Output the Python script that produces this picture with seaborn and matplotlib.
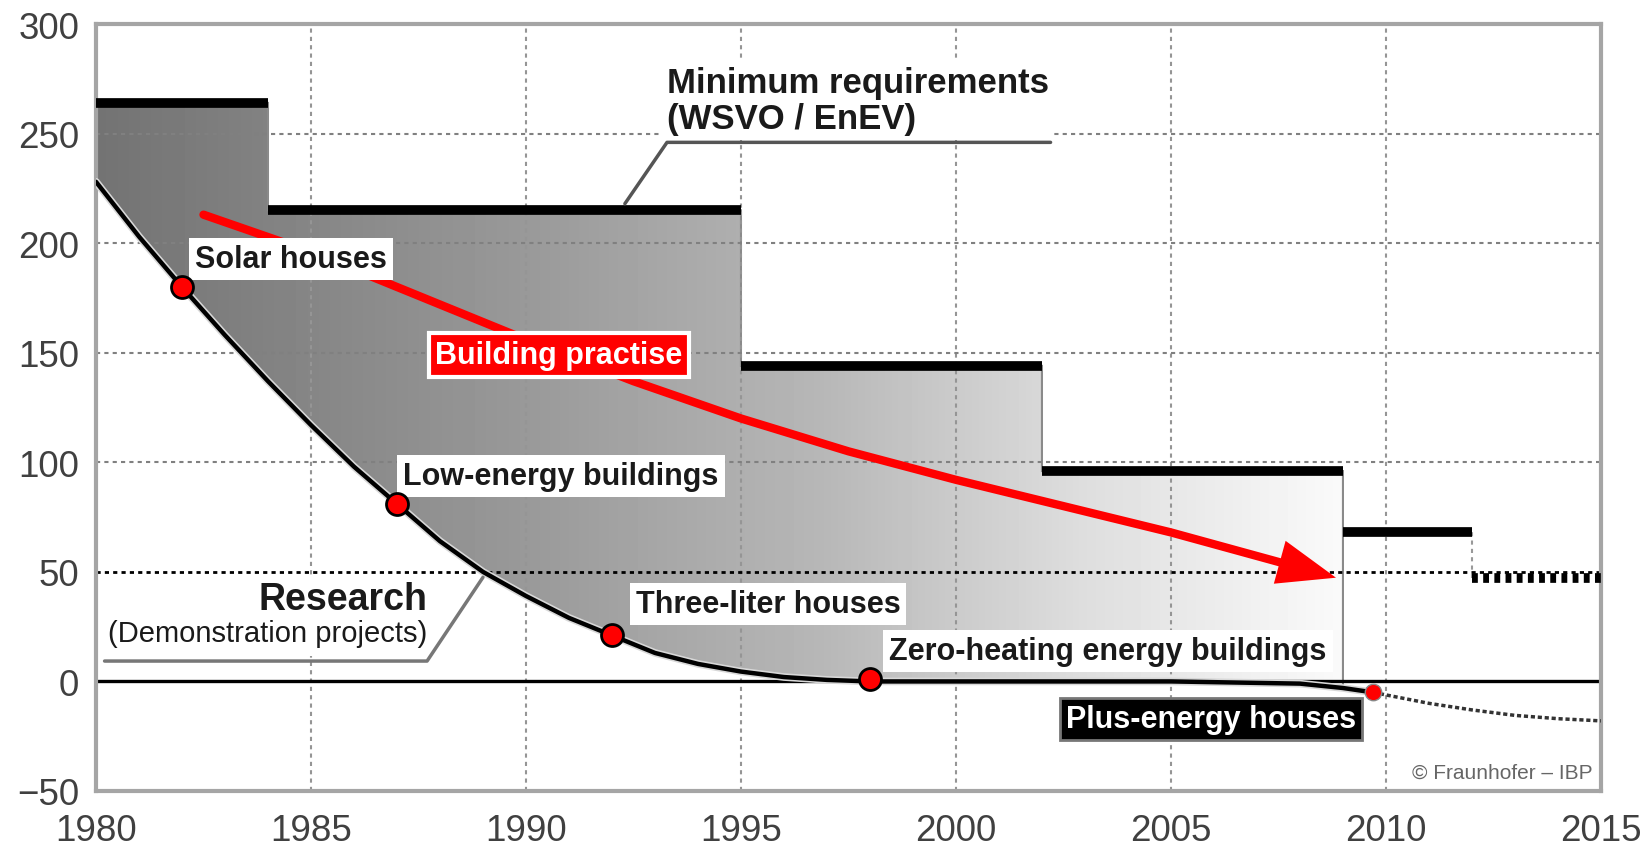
import numpy as np
import matplotlib
matplotlib.use("Agg")
import matplotlib.pyplot as plt
import matplotlib.patheffects as pe
from matplotlib.patches import Polygon
import seaborn as sns

# --- data ---
req_start = [1980, 1984, 1995, 2002, 2009]
req_end = [1984, 1995, 2002, 2009, 2012]
req_value = [264, 215, 144, 96, 68]
target_years = [2012, 2015]
target_value = [47, 47]

research_years = [1980, 1981, 1982, 1983, 1984, 1985, 1986, 1987, 1988, 1989,
                  1990, 1991, 1992, 1993, 1994, 1995, 1996, 1997, 1998, 2000,
                  2005, 2008, 2009, 2009.7]
research_values = [228, 203, 180, 158, 137, 117, 98, 81, 64, 50,
                   39, 29, 21, 13, 8, 4.5, 2, 0.7, 0, 0,
                   0, -1, -3, -5]
outlook_years = [2009.7, 2011, 2012, 2013, 2014, 2015]
outlook_values = [-5, -10, -13, -15.5, -17, -18]

milestone_years = [1982, 1987, 1992, 1998]
milestone_values = [180, 81, 21, 1]
milestone_labels = ["Solar houses", "Low-energy buildings",
                    "Three-liter houses", "Zero-heating energy buildings"]
plus_year, plus_value = 2009.7, -5

practice_years = [1982.5, 1985, 1987.5, 1990, 1992.5, 1995, 1997.5, 2000,
                  2002.5, 2005, 2007.6]
practice_values = [213, 196, 176, 156, 137, 120, 105, 92, 80, 68, 54]
practice_tip = (2008.9, 47)

# gradient of the shaded band (gray level by year)
grad_years = [1980, 1990, 1997, 2003, 2009]
grad_gray = [0.45, 0.60, 0.72, 0.87, 0.98]

x_ticks = list(range(1980, 2016, 5))
y_ticks = list(range(-50, 301, 50))

# --- style ---
sns.set_theme(style="white")
plt.rcParams["font.family"] = ["Liberation Sans", "DejaVu Sans"]

fig = plt.figure(figsize=(16.52, 8.54), dpi=100)
ax = fig.add_axes([0.0581, 0.0726, 0.9110, 0.8981])
ax.set_xlim(1980, 2015)
ax.set_ylim(-50, 300)
ax.set_xticks(x_ticks)
ax.set_yticks(y_ticks)
ax.tick_params(axis="both", length=0, labelsize=26.5, colors="#404040")
ax.tick_params(axis="y", pad=12)
ax.tick_params(axis="x", pad=16)
for s in ax.spines.values():
    s.set_color("#a5a5a5")
    s.set_linewidth(3)

# shaded band between research curve and requirement steps
upper = []
for a, b, v in zip(req_start[:4], req_end[:4], req_value[:4]):
    upper += [(a, v), (b, v)]
lower = list(zip(research_years, research_values))
lower = [p for p in lower if p[0] <= 2009][::-1]
poly = Polygon(upper + lower, closed=True, fc="none", ec="#8a8a8a", lw=1.5, zorder=1.2)
ax.add_patch(poly)
xs = np.linspace(1980, 2009, 400)
grad = np.interp(xs, grad_years, grad_gray)[None, :]
img = ax.imshow(grad, extent=[1980, 2009, -50, 300], aspect="auto", cmap="gray",
                vmin=0, vmax=1, zorder=1, interpolation="bilinear")
img.set_clip_path(poly)

# grid
for x in x_ticks[1:-1]:
    ax.axvline(x, color="#959595", lw=1.5, ls=(0, (2, 2)), zorder=1.5)
for y in [100, 150, 200, 250]:
    ax.axhline(y, color="#808080", lw=1.5, ls=(0, (2, 2)), zorder=1.5)
ax.axhline(50, color="black", lw=2, ls=(0, (1.5, 1.5)), zorder=1.6)
ax.axhline(0, color="black", lw=2.4, zorder=2)

# requirement steps
ax.hlines(req_value, req_start, req_end, colors="black", lw=7, zorder=3)
ax.vlines(req_end[-1], target_value[0], req_value[-1], colors="#999999", lw=1.5,
          linestyles=(0, (2, 2)), zorder=2)
ax.plot(target_years, target_value, color="black", lw=7, ls=(0, (0.6, 0.55)),
        solid_capstyle="butt", dash_capstyle="butt", zorder=3)

# research curve
halo = [pe.Stroke(linewidth=5.5, foreground="#d8d8d8"), pe.Normal()]
sns.lineplot(x=research_years, y=research_values, color="black", lw=3.2, ax=ax,
             zorder=4, path_effects=halo)
sns.lineplot(x=outlook_years, y=outlook_values, color="#333333", lw=2.5, ax=ax,
             linestyle=(0, (1.2, 0.8)), zorder=4)

# building practice arrow
sns.lineplot(x=practice_years, y=practice_values, color="red", lw=6, ax=ax,
             sort=False, zorder=5)
ax.annotate("", xy=practice_tip, xytext=(practice_years[-1], practice_values[-1]),
            arrowprops=dict(arrowstyle="-|>,head_length=4.2,head_width=1.6",
                            mutation_scale=10, fc="red", ec="red", lw=0),
            zorder=5)

# markers
sns.scatterplot(x=milestone_years, y=milestone_values, s=250, color="red",
                edgecolor="black", linewidth=2, ax=ax, zorder=7)
sns.scatterplot(x=[plus_year], y=[plus_value], s=140, color="red",
                edgecolor="#888888", linewidth=1, ax=ax, zorder=7)

# labels
lab_pos = [(1982.3, 192.8), (1987.15, 93.7), (1992.55, 35.3), (1998.45, 13.9)]
for (lx, ly), t in zip(lab_pos, milestone_labels):
    ax.text(lx, ly, t, fontsize=22, fontweight="bold", color="#1a1a1a",
            ha="left", va="center", zorder=6,
            bbox=dict(boxstyle="square,pad=0.2", fc="white", ec="none"))

ax.text(2002.55, -17.1, "Plus-energy houses", fontsize=22, fontweight="bold",
        color="white", ha="left", va="center", zorder=8,
        bbox=dict(boxstyle="square,pad=0.2", fc="black", ec="#777777", lw=2))

ax.text(1990.77, 149, "Building practise", fontsize=22, fontweight="bold",
        color="white", ha="center", va="center", zorder=8,
        bbox=dict(boxstyle="square,pad=0.22", fc="red", ec="white", lw=3))

ax.text(1993.28, 265.3, "Minimum requirements\n(WSVO / EnEV)", fontsize=25,
        fontweight="bold", color="#1a1a1a", ha="left", va="center",
        linespacing=1.12, zorder=6,
        bbox=dict(boxstyle="square,pad=0.15", fc="white", ec="none"))
ax.plot([1992.3, 1993.28, 2002.2], [218, 246, 246], color="#555555", lw=2.5, zorder=6.5)

ax.text(1987.7, 37.5, "Research", fontsize=27, fontweight="bold", color="#1a1a1a",
        ha="right", va="center", zorder=6,
        bbox=dict(boxstyle="square,pad=0.1", fc="white", ec="none"))
ax.text(1987.7, 22, "(Demonstration projects)", fontsize=21, color="#1a1a1a",
        ha="right", va="center", zorder=6,
        bbox=dict(boxstyle="square,pad=0.3", fc="white", ec="none"))
ax.plot([1980.2, 1987.7, 1989.0], [9.3, 9.3, 47.5], color="#777777", lw=2.5, zorder=6.5)

ax.text(2014.8, -41.4, "\u00a9 Fraunhofer \u2013 IBP", fontsize=15, color="#666666",
        ha="right", va="center", zorder=6)

ax.set_xlabel("")
ax.set_ylabel("")
fig.savefig("out.png", dpi=100)
